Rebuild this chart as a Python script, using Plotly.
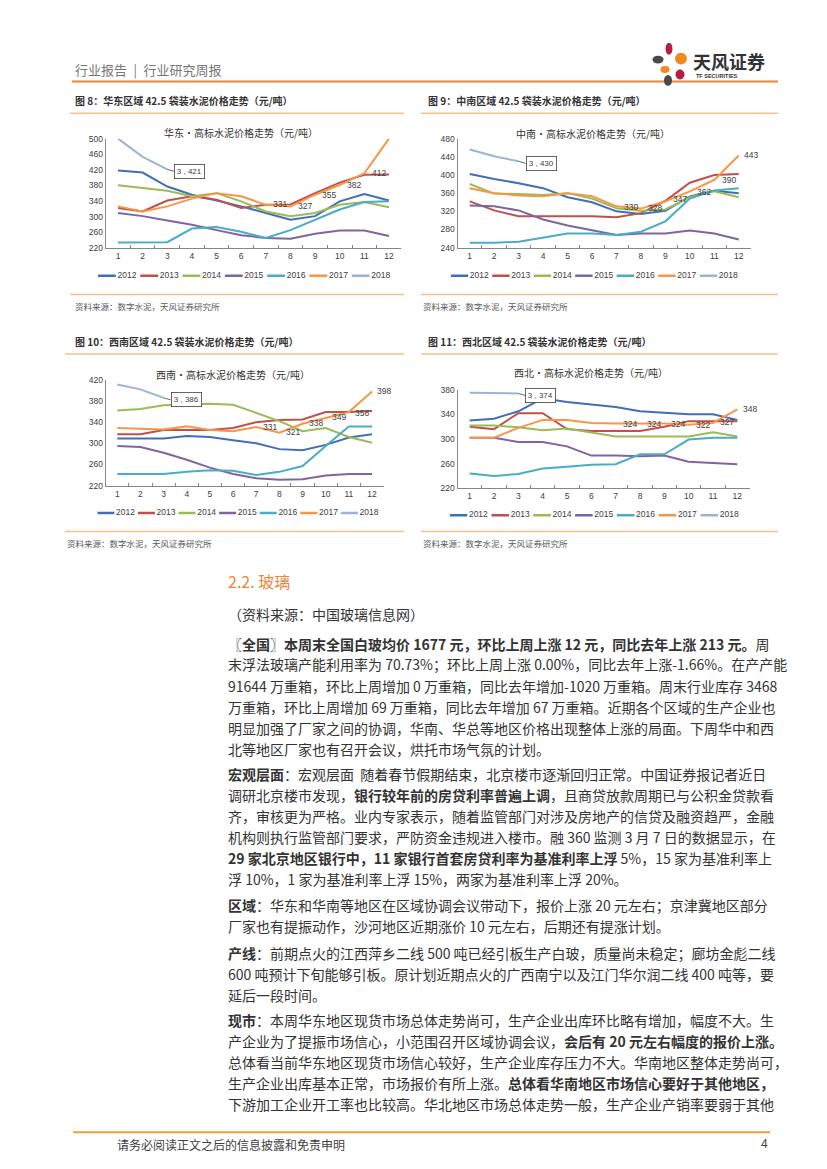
import plotly.graph_objects as go

W, H = 827, 1169
def X(p): return p / W
def Y(p): return 1 - p / H

# ---------------- data ----------------
months = list(range(1, 13))
years = ["2012", "2013", "2014", "2015", "2016", "2017", "2018"]
colors = ["#416FB4", "#C0504D", "#9BBB59", "#8064A2", "#4BACC6", "#F79646", "#9DB3D5"]

# 华东
east_2012 = [418, 413, 377, 356, 341, 326, 309, 292, 301, 339, 358, 341]
east_2013 = [322, 313, 341, 352, 343, 322, 330, 331, 360, 387, 407, 408]
east_2014 = [380, 373, 366, 352, 360, 339, 313, 301, 309, 330, 337, 324]
east_2015 = [309, 301, 290, 279, 265, 252, 245, 243, 256, 264, 264, 250]
east_2016 = [233, 233, 234, 269, 273, 261, 245, 265, 292, 318, 337, 339]
east_2017 = [326, 313, 326, 346, 360, 352, 330, 326, 356, 381, 411, 500]
east_2018 = [500, 453, 421]
east_labels = [331, 327, 355, 382, 412]
east_end = None

# 中南
central_2012 = [402, 391, 382, 371, 351, 340, 320, 314, 321, 353, 365, 360]
central_2013 = [342, 322, 309, 309, 309, 309, 307, 316, 343, 383, 400, 402]
central_2014 = [380, 359, 358, 356, 360, 348, 327, 321, 324, 351, 364, 351]
central_2015 = [333, 331, 322, 302, 289, 278, 268, 271, 271, 278, 271, 258]
central_2016 = [251, 251, 253, 262, 271, 271, 268, 275, 298, 348, 366, 371]
central_2017 = [371, 360, 355, 353, 360, 353, 331, 326, 342, 364, 389, 443]
central_2018 = [456, 441, 430]
central_labels = [330, 328, 347, 362, 390]
central_end = 443

# 西南
sw_2012 = [309, 309, 309, 314, 312, 306, 300, 289, 287, 297, 311, 317]
sw_2013 = [317, 317, 325, 325, 325, 329, 340, 344, 345, 359, 359, 361]
sw_2014 = [362, 365, 372, 374, 375, 373, 357, 342, 323, 329, 312, 301]
sw_2015 = [295, 293, 282, 269, 254, 242, 234, 231, 232, 239, 242, 242]
sw_2016 = [242, 242, 242, 246, 249, 248, 240, 246, 257, 295, 332, 332]
sw_2017 = [329, 328, 326, 332, 325, 323, 331, 320, 337, 348, 359, 398]
sw_2018 = [411, 402, 386]
sw_labels = [331, 321, 338, 349, 358]
sw_end = 398

# 西北
nw_2012 = [330, 333, 345, 366, 360, 356, 352, 345, 342, 340, 340, 331]
nw_2013 = [320, 316, 342, 342, 316, 313, 313, 313, 320, 329, 329, 329]
nw_2014 = [322, 322, 319, 314, 317, 310, 304, 304, 304, 304, 311, 304]
nw_2015 = [302, 302, 295, 295, 288, 273, 273, 272, 273, 263, 261, 259]
nw_2016 = [244, 240, 243, 252, 255, 258, 259, 275, 275, 299, 302, 302]
nw_2017 = [302, 302, 318, 331, 331, 326, 325, 325, 325, 323, 326, 348]
nw_2018 = [375, 375, 374]
nw_labels = [324, 324, 324, 322, 327]
nw_end = 348

label_months = [8, 9, 10, 11, 12]

# ---------------- layout config ----------------
charts = [
    dict(title="华东•高标水泥价格走势（元/吨）",
         series=[east_2012, east_2013, east_2014, east_2015, east_2016, east_2017, east_2018],
         labels=east_labels, end=east_end, yr=[220, 500],
         px=(97.7, 393.3), py=(126.7, 236.7), tpos=(233, 121),
         leg=(90, 265, 42.3)),
    dict(title="中南•高标水泥价格走势（元/吨）",
         series=[central_2012, central_2013, central_2014, central_2015, central_2016, central_2017, central_2018],
         labels=central_labels, end=central_end, yr=[240, 480],
         px=(449.5, 743.0), py=(126.7, 236.7), tpos=(585, 121.5),
         leg=(442.7, 265, 41.5)),
    dict(title="西南•高标水泥价格走势（元/吨）",
         series=[sw_2012, sw_2013, sw_2014, sw_2015, sw_2016, sw_2017, sw_2018],
         labels=sw_labels, end=sw_end, yr=[220, 420],
         px=(97.7, 375.6), py=(370.0, 476.7), tpos=(225, 365),
         leg=(89.3, 504.3, 40.6)),
    dict(title="西北•高标水泥价格走势（元/吨）",
         series=[nw_2012, nw_2013, nw_2014, nw_2015, nw_2016, nw_2017, nw_2018],
         labels=nw_labels, end=nw_end, yr=[220, 380],
         px=(449.5, 741.5), py=(380.0, 479.3), tpos=(583, 362.7),
         leg=(441.7, 506.7, 41.8)),
]

fig = go.Figure()
annotations = []
shapes = []
AXF = "Liberation Sans, Arial, sans-serif"
CJK = "Noto Sans CJK SC, sans-serif"
TXT = "#404040"

for i, c in enumerate(charts):
    n = i + 1
    xa = "x" if n == 1 else f"x{n}"
    ya = "y" if n == 1 else f"y{n}"
    for k, vals in enumerate(c["series"]):
        fig.add_trace(go.Scatter(x=months[:len(vals)], y=vals, mode="lines",
                                 line=dict(color=colors[k], width=2),
                                 xaxis=xa, yaxis=ya, showlegend=False,
                                 name=years[k], hoverinfo="skip"))
    xkey = "xaxis" if n == 1 else f"xaxis{n}"
    ykey = "yaxis" if n == 1 else f"yaxis{n}"
    fig.update_layout(**{
        xkey: dict(domain=[X(c["px"][0]), X(c["px"][1])], range=[0.5, 12.5],
                   tickvals=months, ticktext=[str(m) for m in months],
                   showline=True, linecolor="#868686", linewidth=1,
                   showgrid=False, zeroline=False, ticks="",
                   tickfont=dict(family=AXF, size=8.5, color=TXT),
                   minor=dict(tickvals=[m + 0.5 for m in months[:-1]], ticks="inside",
                              ticklen=3, tickcolor="#868686", showgrid=False),
                   anchor=ya, fixedrange=True),
        ykey: dict(domain=[Y(c["py"][1]), Y(c["py"][0])], range=c["yr"],
                   tick0=c["yr"][0], dtick=40, showline=True, linecolor="#868686",
                   linewidth=1, showgrid=False, zeroline=False, ticks="",
                   tickfont=dict(family=AXF, size=8.5, color=TXT),
                   anchor=xa, fixedrange=True),
    })
    # chart title
    annotations.append(dict(x=X(c["tpos"][0]), y=Y(c["tpos"][1]), xref="paper", yref="paper",
                            text=c["title"], showarrow=False, xanchor="center", yanchor="middle",
                            font=dict(family=CJK, size=10, color="#333333")))
    # data labels
    for m, v in zip(label_months, c["labels"]):
        annotations.append(dict(x=m - 0.42, y=v, xref=xa, yref=ya, text=str(v),
                                showarrow=False, xanchor="center", yanchor="middle",
                                font=dict(family=AXF, size=8.5, color=TXT)))
    if c["end"] is not None:
        annotations.append(dict(x=12.15, y=c["end"], xref=xa, yref=ya, text=str(c["end"]),
                                showarrow=False, xanchor="left", yanchor="middle",
                                font=dict(family=AXF, size=8.5, color=TXT)))
    # 2018 callout
    last = c["series"][6]
    annotations.append(dict(x=len(last), y=last[-1], xref=xa, yref=ya,
                            text=f"{len(last)} , {last[-1]}", showarrow=True,
                            arrowhead=0, arrowwidth=0.8, arrowcolor="#404040",
                            ax=7, ay=2, xanchor="left", yanchor="middle",
                            bordercolor="#404040", borderwidth=0.8, borderpad=2,
                            bgcolor="white",
                            font=dict(family=AXF, size=8, color=TXT)))
    # legend on auxiliary axes
    lx, ly, sp = c["leg"]
    ln = n + 4
    lxa, lya = f"x{ln}", f"y{ln}"
    fig.update_layout(**{
        f"xaxis{ln}": dict(domain=[X(lx), X(lx + 7 * sp)], range=[0, 7], visible=False,
                           anchor=lya, fixedrange=True),
        f"yaxis{ln}": dict(domain=[Y(ly + 6), Y(ly - 6)], range=[-1, 1], visible=False,
                           anchor=lxa, fixedrange=True),
    })
    for k, yr in enumerate(years):
        fig.add_trace(go.Scatter(x=[k, k + 0.42], y=[0, 0], mode="lines",
                                 line=dict(color=colors[k], width=2.5),
                                 xaxis=lxa, yaxis=lya, showlegend=False, hoverinfo="skip"))
        fig.add_trace(go.Scatter(x=[k + 0.46], y=[0], mode="text", text=[yr],
                                 textposition="middle right", cliponaxis=False,
                                 textfont=dict(family=AXF, size=8.5, color=TXT),
                                 xaxis=lxa, yaxis=lya, showlegend=False, hoverinfo="skip"))

# ---------------- page decorations ----------------
def hline(x0, x1, y, color, w):
    shapes.append(dict(type="line", xref="paper", yref="paper",
                       x0=X(x0), x1=X(x1), y0=Y(y), y1=Y(y),
                       line=dict(color=color, width=w)))

def text(x, y, s, size, color="#333333", anchor="left", family=CJK):
    annotations.append(dict(x=X(x), y=Y(y), xref="paper", yref="paper", text=s,
                            showarrow=False, xanchor=anchor, yanchor="middle",
                            font=dict(family=family, size=size, color=color)))

# header
text(65, 57, "行业报告\u2002|\u2002行业研究周报", 13, "#767676")
hline(64, 770, 69, "#E8893A", 2)
# logo petals
petals = [
    (661, 36, 3.5, 6, "#B3203F"),
    (673, 46, 6, 6, "#F0891E"),
    (650, 47, 5.5, 4, "#4A4A4A"),
    (657, 57, 4.5, 3.5, "#F0891E"),
    (660, 68, 4, 5.5, "#4A4A4A"),
    (672, 62, 4.5, 5, "#B3203F"),
]
for cx, cy, rx, ry, col in petals:
    shapes.append(dict(type="circle", xref="paper", yref="paper",
                       x0=X(cx - rx), x1=X(cx + rx), y0=Y(cy + ry), y1=Y(cy - ry),
                       fillcolor=col, line=dict(width=0)))
text(683, 48, "<b>天风证券</b>", 18, "#333333")
text(686, 64, "<b>TF SECURITIES</b>", 5.5, "#333333", family=AXF)

# figure captions and frames
text(65, 88, "<b>图 8：华东区域 42.5 袋装水泥价格走势（元/吨）</b>", 10, "#333333")
text(418, 88, "<b>图 9：中南区域 42.5 袋装水泥价格走势（元/吨）</b>", 10, "#333333")
hline(62, 396, 101, "#F5C08F", 1.5)
hline(413, 770, 101, "#F5C08F", 1.5)
hline(62, 396, 284, "#F5C08F", 1.5)
hline(413, 770, 284, "#F5C08F", 1.5)
text(65, 296, "资料来源：数字水泥，天风证券研究所", 8.5, "#595959")
text(413, 296, "资料来源：数字水泥，天风证券研究所", 8.5, "#595959")

text(65, 331, "<b>图 10：西南区域 42.5 袋装水泥价格走势（元/吨）</b>", 10, "#333333")
text(418, 331, "<b>图 11：西北区域 42.5 袋装水泥价格走势（元/吨）</b>", 10, "#333333")
hline(57, 396, 344, "#F5C08F", 1.5)
hline(413, 770, 344, "#F5C08F", 1.5)
hline(57, 396, 523, "#F5C08F", 1.5)
hline(413, 770, 523, "#F5C08F", 1.5)
text(57, 535, "资料来源：数字水泥，天风证券研究所", 8.5, "#595959")
text(413, 535, "资料来源：数字水泥，天风证券研究所", 8.5, "#595959")

# body text
text(218, 573, "2.2. 玻璃", 16, "#E8873A")
text(218, 606, "（资料来源：中国玻璃信息网）", 14)
body = [
    (636, "<b>〖全国〗本周末全国白玻均价 1677 元，环比上周上涨 12 元，同比去年上涨 213 元。</b>周"),
    (657, "末浮法玻璃产能利用率为 70.73%；环比上周上涨 0.00%，同比去年上涨-1.66%。在产产能"),
    (679, "91644 万重箱，环比上周增加 0 万重箱，同比去年增加-1020 万重箱。周末行业库存 3468"),
    (700, "万重箱，环比上周增加 69 万重箱，同比去年增加 67 万重箱。近期各个区域的生产企业也"),
    (721, "明显加强了厂家之间的协调，华南、华总等地区价格出现整体上涨的局面。下周华中和西"),
    (742, "北等地区厂家也有召开会议，烘托市场气氛的计划。"),
    (768, "<b>宏观层面</b>：宏观层面  随着春节假期结束，北京楼市逐渐回归正常。中国证券报记者近日"),
    (789, "调研北京楼市发现，<b>银行较年前的房贷利率普遍上调</b>，且商贷放款周期已与公积金贷款看"),
    (810, "齐，审核更为严格。业内专家表示，随着监管部门对涉及房地产的信贷及融资趋严，金融"),
    (831, "机构则执行监管部门要求，严防资金违规进入楼市。融 360 监测 3 月 7 日的数据显示，在"),
    (852, "<b>29 家北京地区银行中，11 家银行首套房贷利率为基准利率上浮</b> 5%，15 家为基准利率上"),
    (873, "浮 10%，1 家为基准利率上浮 15%，两家为基准利率上浮 20%。"),
    (900, "<b>区域</b>：华东和华南等地区在区域协调会议带动下，报价上涨 20 元左右；京津冀地区部分"),
    (921, "厂家也有提振动作，沙河地区近期涨价 10 元左右，后期还有提涨计划。"),
    (948, "<b>产线</b>：前期点火的江西萍乡二线 500 吨已经引板生产白玻，质量尚未稳定；廊坊金彪二线"),
    (969, "600 吨预计下旬能够引板。原计划近期点火的广西南宁以及江门华尔润二线 400 吨等，要"),
    (990, "延后一段时间。"),
    (1016, "<b>现市</b>：本周华东地区现货市场总体走势尚可，生产企业出库环比略有增加，幅度不大。生"),
    (1037, "产企业为了提振市场信心，小范围召开区域协调会议，<b>会后有 20 元左右幅度的报价上涨。</b>"),
    (1058, "总体看当前华东地区现货市场信心较好，生产企业库存压力不大。华南地区整体走势尚可，"),
    (1079, "生产企业出库基本正常，市场报价有所上涨。<b>总体看华南地区市场信心要好于其他地区，</b>"),
    (1100, "下游加工企业开工率也比较高。华北地区市场总体走势一般，生产企业产销率要弱于其他"),
]
for yy, s in body:
    text(218, yy, s, 14)

# footer
hline(65, 762, 1129, "#E9A23B", 2)
text(107, 1141, "请务必阅读正文之后的信息披露和免责申明", 12, "#404040")
text(762, 1141, "4", 12, "#404040", anchor="right", family=AXF)

fig.update_layout(width=W, height=H, margin=dict(l=0, r=0, t=0, b=0),
                  paper_bgcolor="white", plot_bgcolor="white",
                  showlegend=False, annotations=annotations, shapes=shapes)

fig.write_html("out.html")
